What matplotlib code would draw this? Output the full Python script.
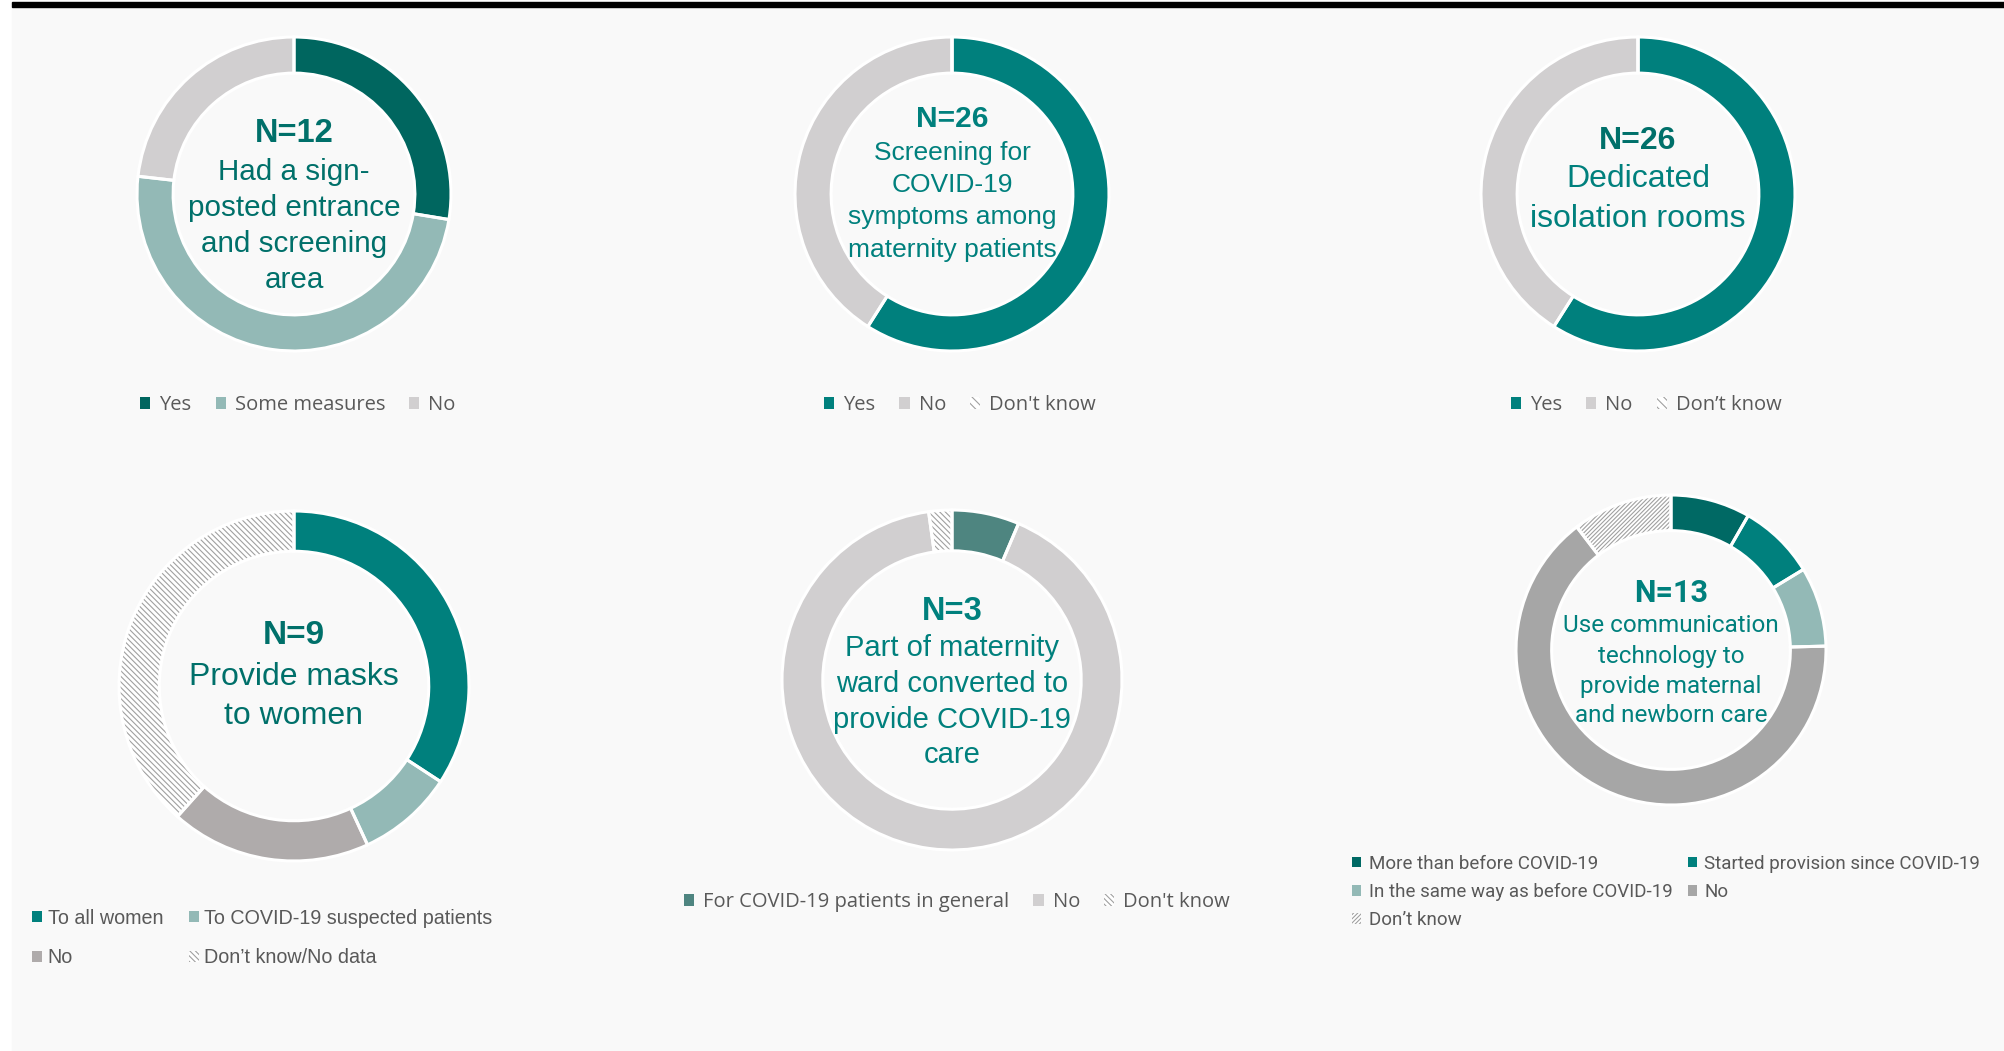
import matplotlib
matplotlib.use("Agg")
import matplotlib.pyplot as plt
from matplotlib.patches import Patch, Rectangle

# =============================================================================
# data (percent of respondents)
# =============================================================================
signpost_labels = ["Yes", "Some measures", "No"]
signpost_values = [27.6, 49.2, 23.2]

screening_labels = ["Yes", "No", "Don't know"]
screening_values = [59, 41, 0]

isolation_labels = ["Yes", "No", "Don\u2019t know"]
isolation_values = [59, 41, 0]

masks_labels = ["To all women", "To COVID-19 suspected patients", "No", "Don\u2019t know/No data"]
masks_values = [34.2, 8.9, 18.5, 38.4]

ward_labels = ["For COVID-19 patients in general", "No", "Don't know"]
ward_values = [6.4, 91.4, 2.2]

comm_labels = ["More than before COVID-19", "Started provision since COVID-19",
               "In the same way as before COVID-19", "No", "Don\u2019t know"]
comm_values = [8.3, 8.0, 8.3, 65.0, 10.4]

W, H = 2004, 1051
DARK = "#00665F"
TEAL = "#00807D"
LIGHT = "#93B9B6"
GREY = "#D1CFD0"
HATCH_GREY = "#A0A0A0"
LEGEND_TXT = "#595959"

plt.rcParams["hatch.linewidth"] = 0.8

fig = plt.figure(figsize=(W / 100, H / 100), dpi=100, facecolor="white")
fig.add_artist(Rectangle((12 / W, 0), 1, (H - 7) / H, transform=fig.transFigure,
                         color="#F9F9F9", zorder=-10))
fig.add_artist(Rectangle((12 / W, (H - 7) / H), 1, 5 / H, transform=fig.transFigure,
                         color="black", zorder=-5))


def fx(px):
    return px / W


def fy(py):
    return 1 - py / H


def donut(cx, cy, r, values, colors, hatches, width=0.23):
    pad = 1.04
    ax = fig.add_axes([fx(cx - r * pad), fy(cy + r * pad), 2 * r * pad / W, 2 * r * pad / H])
    # first pass: fills and hatching
    wedges, _ = ax.pie(values, colors=colors, startangle=90, counterclock=False,
                       radius=1, wedgeprops=dict(width=width, linewidth=0))
    for w, h in zip(wedges, hatches):
        if h:
            w.set_facecolor("white")
            w.set_edgecolor(HATCH_GREY)
            w.set_hatch(h)
    # second pass: white separators
    ax.pie(values, colors=["none"] * len(values), startangle=90, counterclock=False,
           radius=1, wedgeprops=dict(width=width, edgecolor="white", linewidth=2.2))
    ax.set_xlim(-pad, pad)
    ax.set_ylim(-pad, pad)
    ax.set_aspect("equal")
    ax.axis("off")
    return ax


def handles(colors, hatches):
    out = []
    for c, h in zip(colors, hatches):
        if h:
            out.append(Patch(facecolor="white", edgecolor=HATCH_GREY, hatch=h, linewidth=0))
        else:
            out.append(Patch(facecolor=c, edgecolor="none"))
    return out


def center_text(cx, lines, color, size, nsize, family="Liberation Sans", ncolor=None):
    # lines: list of (y_px, text); first line is the bold N=
    for i, (py, txt) in enumerate(lines):
        if i == 0:
            fig.text(fx(cx), fy(py), txt, ha="center", va="center", fontsize=nsize,
                     fontweight="bold", color=ncolor or color, family=family)
        else:
            fig.text(fx(cx), fy(py), txt, ha="center", va="center", fontsize=size,
                     color=color, family=family)


def legend(items_h, items_l, x, y, loc, ncol=1, fontsize=14.5, family="Open Sans",
           textpad=0.45, **kw):
    leg = fig.legend(items_h, items_l, loc=loc, bbox_to_anchor=(fx(x), fy(y)), ncol=ncol,
                     frameon=False, handlelength=0.5, handleheight=0.5,
                     handletextpad=textpad, prop={"family": family, "size": fontsize}, **kw)
    for t in leg.get_texts():
        t.set_color(LEGEND_TXT)
    return leg


# =============================================================================
# chart 1: sign-posted entrance
# =============================================================================
c1 = [DARK, LIGHT, GREY]
h1 = [None, None, None]
donut(294, 194, 157, signpost_values, c1, h1)
center_text(294, [(133, "N=12"), (172, "Had a sign-"), (208, "posted entrance"),
                  (244, "and screening"), (280, "area")], "#00706A", 21.3, 23.5)
legend(handles(c1, h1), signpost_labels, 298, 405, "center", ncol=3, columnspacing=1.2)

# =============================================================================
# chart 2: screening
# =============================================================================
c2 = [TEAL, GREY, "white"]
h2 = [None, None, "\\\\\\\\"]
donut(952, 194, 157, screening_values, c2, h2)
center_text(952, [(119, "N=26"), (153, "Screening for"), (185, "COVID-19"),
                  (217, "symptoms among"), (250, "maternity patients")], TEAL, 19, 21.5)
legend(handles(c2, h2), screening_labels, 960, 405, "center", ncol=3, columnspacing=1.2)

# =============================================================================
# chart 3: isolation rooms
# =============================================================================
c3 = [TEAL, GREY, "white"]
h3 = [None, None, "\\\\\\\\"]
donut(1638, 194, 157, isolation_values, c3, h3)
center_text(1638, [(141, "N=26"), (179, "Dedicated"), (219, "isolation rooms")], TEAL, 23,
            23, ncolor="#00706A")
legend(handles(c3, h3), isolation_labels, 1646, 405, "center", ncol=3, columnspacing=1.2)

# =============================================================================
# chart 4: masks
# =============================================================================
c4 = [TEAL, LIGHT, "#AFABAB", "white"]
h4 = [None, None, None, "\\\\\\\\\\\\"]
donut(294, 686, 175, masks_values, c4, h4)
center_text(294, [(636, "N=9"), (677, "Provide masks"), (716, "to women")], "#00706A", 23,
            24)
hh4 = handles(c4, h4)
order4 = [0, 2, 1, 3]
legend([hh4[i] for i in order4], [masks_labels[i] for i in order4], 14, 938, "center left",
       ncol=2, fontsize=14.2, family="Liberation Sans", textpad=0.3, columnspacing=1.3,
       labelspacing=1.05)

# =============================================================================
# chart 5: converted ward
# =============================================================================
c5 = ["#4E8580", GREY, "white"]
h5 = [None, None, "\\\\\\\\\\\\"]
donut(952, 680, 170, ward_values, c5, h5, width=0.24)
center_text(952, [(611, "N=3"), (648, "Part of maternity"), (684, "ward converted to"),
                  (720, "provide COVID-19"), (755, "care")], TEAL, 21, 23.5)
legend(handles(c5, h5), ward_labels, 957, 902, "center", ncol=3, columnspacing=1.2)

# =============================================================================
# chart 6: communication technology
# =============================================================================
c6 = ["#006964", TEAL, LIGHT, "#A6A6A6", "white"]
h6 = [None, None, None, None, "////////"]
donut(1671, 650, 155, comm_values, c6, h6)
center_text(1671, [(593, "N=13"), (626, "Use communication"), (657, "technology to"),
                   (686, "provide maternal"), (716, "and newborn care")], TEAL, 17.5, 22,
            family="Roboto")
hh6 = handles(c6, h6)
order6 = [0, 2, 4, 1, 3]
legend([hh6[i] for i in order6], [comm_labels[i] for i in order6], 1335, 892, "center left",
       ncol=2, fontsize=13.5, family="Roboto", textpad=0.4, columnspacing=0.8,
       labelspacing=0.55)

fig.savefig("out.png", dpi=100, facecolor="white")
